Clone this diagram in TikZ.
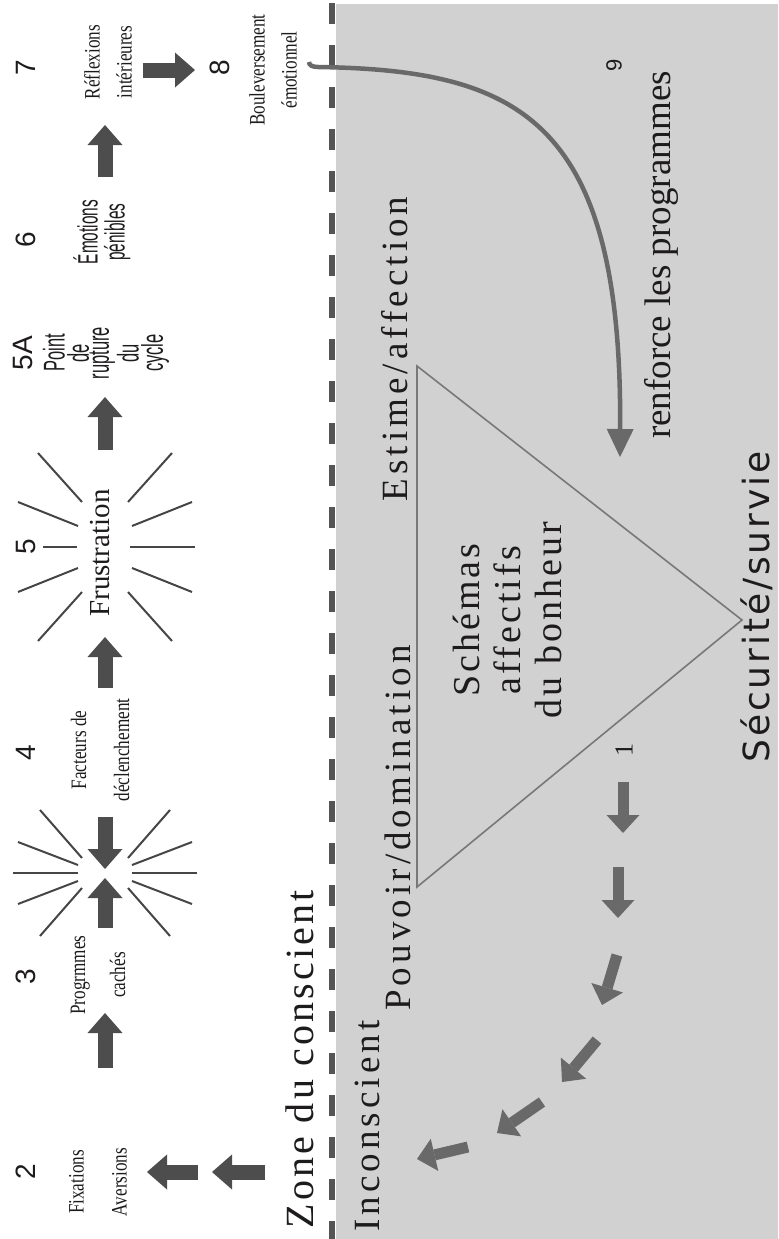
\documentclass[tikz,border=0pt]{standalone}
\usepackage{fontspec}
\setmainfont{Liberation Serif}
\newfontfamily\narrowserif[FakeStretch=0.78]{Liberation Serif}
\newfontfamily\condsans[FakeStretch=0.55]{Liberation Sans}
\newfontfamily\numsans{Liberation Sans}
\newfontfamily\spacedserif[LetterSpace=11]{Liberation Serif}
\newfontfamily\schemaserif[LetterSpace=8]{Liberation Serif}
\newfontfamily\zoneserif[LetterSpace=8]{Liberation Serif}
\newfontfamily\survsans[LetterSpace=8]{DejaVu Sans}
\usetikzlibrary{arrows.meta}

\definecolor{inkblack}{RGB}{30,27,28}
\definecolor{zonegray}{RGB}{209,209,209}
\definecolor{dashgray}{RGB}{85,85,85}
\definecolor{arrowdark}{RGB}{77,77,77}
\definecolor{arrowmid}{RGB}{105,105,105}
\definecolor{raygray}{RGB}{70,70,70}
\definecolor{trigray}{RGB}{120,120,120}

\tikzset{
  upright/.style={rotate=90, inner sep=0pt, text=inkblack},
  stepnum/.style={upright, font=\numsans\fontsize{14}{14}\selectfont},
  stepnote/.style={upright, align=center, font=\narrowserif\fontsize{11}{#1}\selectfont},
  stepnote/.default=16,
  zonetext/.style={upright, anchor=base, font=\spacedserif\fontsize{18.5}{20}\selectfont},
  bigarrow/.style={arrowdark, line width=7.5pt, -{Triangle[width=17.5pt,length=10pt,line width=0pt]}},
  fallarrow/.style={arrowmid, line width=5.5pt, -{Triangle[width=16.5pt,length=9pt,line width=0pt]}},
  ray/.style={raygray, line width=1pt}
}

\begin{document}
\begin{tikzpicture}[x=0.5pt, y=-0.5pt]
    \useasboundingbox (0,0) rectangle (778,1239);
    \fill[white] (0,0) rectangle (778,1239);
    \fill[zonegray] (336,4) rectangle (778,1239);
    \draw[dashgray, line width=3pt, dash pattern=on 10.5pt off 10.5pt] (332,3) -- (332,1239);

    \draw[trigray, line width=0.8pt] (417,366) -- (742,620) -- (417,887) -- cycle;

    \begin{scope}[shift={(105,547)}]
        \foreach \sx in {-1,1}
            \foreach \sy in {-1,1} {
                \draw[ray] (\sx*23,\sy*45) -- (\sx*67,\sy*94);
                \draw[ray] (\sx*27,\sy*21) -- (\sx*87,\sy*45);
            }
        \draw[ray] (-28,0) -- (-62,0);
        \draw[ray] (25,0) -- (90,0);
    \end{scope}

    \begin{scope}[shift={(105,873)}]
        \foreach \sx in {-1,1}
            \foreach \sy in {-1,1} {
                \draw[ray] (\sx*23,\sy*15) -- (\sx*65,\sy*63);
                \draw[ray] (\sx*27,\sy*8) -- (\sx*87,\sy*31);
            }
        \draw[ray] (-27,0) -- (-92,0);
        \draw[ray] (27,0) -- (92,0);
    \end{scope}

    \node[stepnum] (num7) at (26,68) {7};
    \node[stepnum] (num6) at (26,240) {6};
    \node[stepnum] (num5a) at (23,353) {5A};
    \node[stepnum] (num5) at (26,547) {5};
    \node[stepnum] (num4) at (26,753) {4};
    \node[stepnum] (num3) at (26,977) {3};
    \node[stepnum] (num2) at (26,1172) {2};
    \node[stepnum] (num8) at (220,68) {8};
    \node[upright, font=\numsans\fontsize{11}{11}\selectfont] (num9) at (614,65) {9};
    \node[upright, font=\fontsize{13}{13}\selectfont] (num1) at (624,750) {1};

    \node[stepnote=16] (reflex) at (108,62) {Réflexions\\intérieures};
    \node[upright, align=center, font=\condsans\fontsize{14}{13.5}\selectfont] (emotions) at (102,232) {Émotions\\pénibles};
    \node[upright, align=center, font=\condsans\fontsize{15}{10}\selectfont] (rupture) at (106,353) {Point\\de\\rupture\\du\\cycle};
    \node[upright, font=\fontsize{14.5}{15}\selectfont] (frustr) at (100,553) {Frustration};
    \node[stepnote=21.5] (facteurs) at (100,750) {Facteurs de\\déclenchement};
    \node[stepnote=20] (caches) at (98,975) {Progrmmes\\cachés};
    \node[stepnote=21.5] (fixations) at (98,1182) {Fixations\\Aversions};
    \node[stepnote=16] (boulev) at (273,70) {Bouleversement\\émotionnel};

    \node[zonetext, font=\zoneserif\fontsize{20}{20}\selectfont] (zone) at (313,1059) {Zone du conscient};
    \node[zonetext] (incons) at (379,1126) {Inconscient};
    \node[zonetext] (pouvoir) at (410,828) {Pouvoir/domination};
    \node[zonetext] (estime) at (407,349) {Estime/affection};
    \node[upright, anchor=base, font=\fontsize{18.5}{20}\selectfont] (renforce) at (670,255) {renforce les programmes};
    \node[upright, anchor=base, font=\survsans\fontsize{18}{20}\selectfont] (securite) at (769,607) {Sécurité/survie};
    \node[upright, align=center, font=\schemaserif\fontsize{19}{20.5}\selectfont] (schemas) at (507,620) {Schémas\\affectifs\\du bonheur};

    \foreach \xa/\ya/\xb/\yb [count=\i] in {265/1172/212/1172, 198/1172/147/1172, 105/1068/105/1013,
            105/928/105/878, 105/817/105/869, 105/688/105/637, 105/450/105/397, 105/177/105/125, 143/70/195/70} {
        \coordinate (bs\i) at (\xa,\ya);
        \coordinate (be\i) at (\xb,\yb);
        \draw[bigarrow] (bs\i) -- (be\i);
    }

    \foreach \xa/\ya/\xb/\yb [count=\i] in {623/782/623/833, 618/867/618/918, 617/955/602/1005,
            597/1040/562/1082, 542/1102/497/1133, 468/1147/417/1159} {
        \coordinate (fs\i) at (\xa,\ya);
        \coordinate (fe\i) at (\xb,\yb);
        \draw[fallarrow] (fs\i) -- (fe\i);
    }

    \coordinate (boulevout) at (309,62);
    \coordinate (renftip) at (620,457);
    \draw[arrowmid, line width=2.25pt, -{Triangle[width=13.5pt,length=14pt,line width=0pt]}] (boulevout) .. controls (309,65) and (312,67) .. (318,67) .. controls (520,70) and (622,120) .. (renftip);
\end{tikzpicture}
\end{document}
